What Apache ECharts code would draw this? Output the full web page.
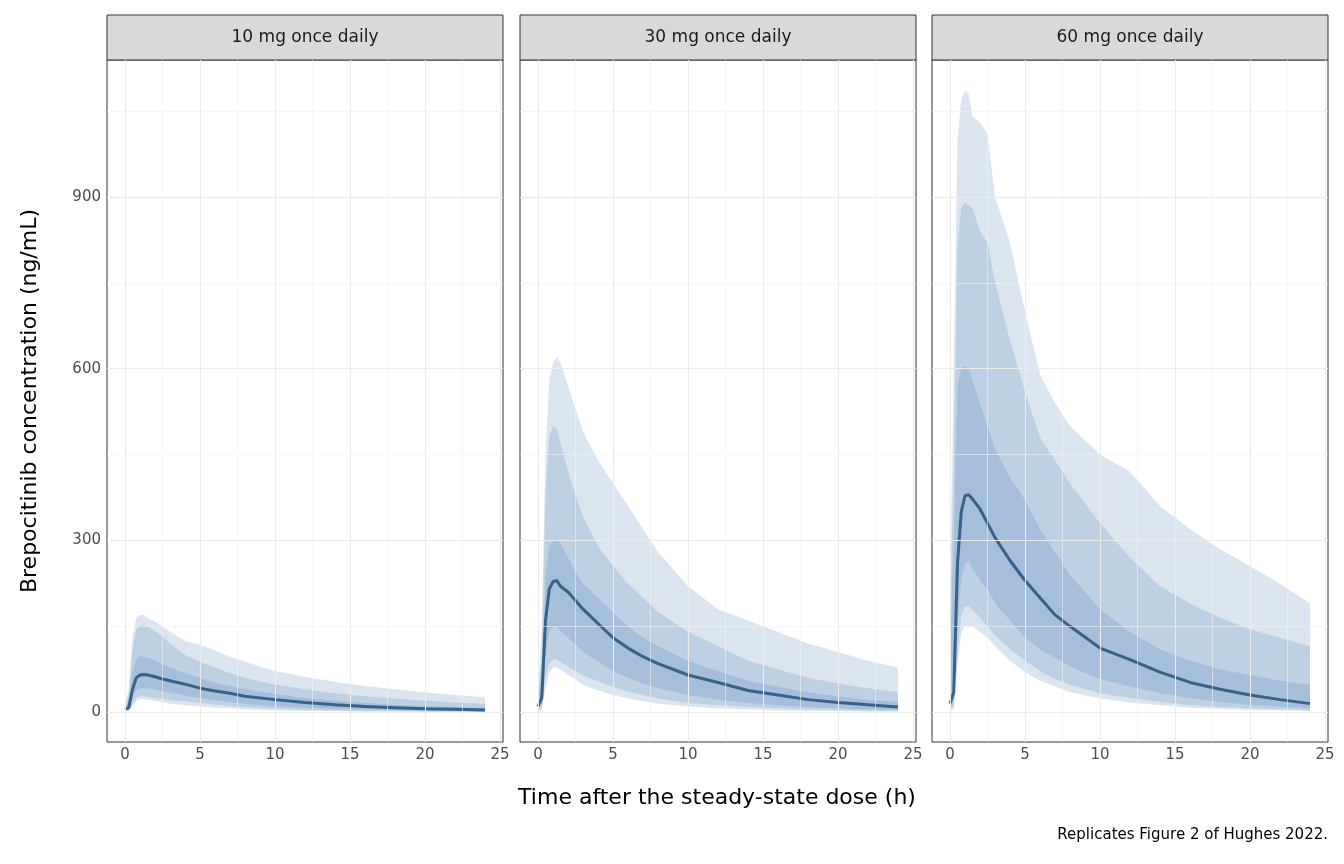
<!DOCTYPE html><html><head><meta charset="utf-8"><script src="https://cdn.jsdelivr.net/npm/echarts@6/dist/echarts.min.js"></script>
<style>html,body{margin:0;background:#fff}#c{width:1344px;height:864px}</style></head><body><div id="c"></div><script>
const panels=["10 mg once daily","30 mg once daily","60 mg once daily"];
const time=[0,0.25,0.5,0.75,1,1.25,1.5,2,2.5,3,4,5,6,7,8,10,12,14,16,18,20,22,24];
const xTicks=[0,5,10,15,20,25];
const yTicks=[0,300,600,900];
// 10 mg
const p5_10=[1,2,10,20,23,23,22,20,18,15,12,10,8,7,5,3,2,2,1,1,1,1,1];
const p10_10=[2,3,15,25,28,28,27,25,23,21,19,16,13,11,9,6,4,3,2,2,1,1,1];
const p25_10=[3,5,25,38,42,42,42,40,37,34,29,25,21,18,15,11,8,6,5,4,3,2,2];
const med_10=[5,8,40,60,65,66,65,62,58,55,49,42,37,33,28,22,17,13,10,8,6,5,4];
const p75_10=[6,18,70,92,98,97,96,90,84,78,68,60,52,46,40,32,25,20,16,13,11,9,8];
const p90_10=[8,30,110,145,152,152,150,142,132,120,100,88,78,68,60,48,40,33,28,24,20,17,15];
const p95_10=[10,40,130,165,170,170,165,158,150,140,125,118,108,97,88,72,62,53,46,40,35,30,26];
// 30 mg
const p5_30=[1,4,40,70,78,78,75,65,57,48,38,30,24,19,15,10,7,5,3,2,2,1,1];
const p10_30=[3,8,65,85,92,92,88,80,72,64,54,44,36,30,24,16,12,9,7,5,4,3,2];
const p25_30=[5,15,100,140,150,150,142,130,118,105,88,72,60,50,42,30,22,16,12,9,7,5,4];
const med_30=[10,25,160,215,228,230,220,210,195,180,155,130,112,97,85,65,52,38,30,22,17,13,9];
const p75_30=[15,60,240,290,300,300,295,270,245,225,200,175,150,130,115,90,72,55,45,35,28,22,18];
const p90_30=[20,100,380,480,500,495,470,420,380,340,290,255,225,200,175,140,115,90,75,60,50,42,35];
const p95_30=[30,150,450,580,610,620,610,570,530,490,440,400,360,320,280,220,180,160,140,120,105,90,78];
// 60 mg
const p5_60=[2,6,80,140,150,150,150,140,130,115,90,70,55,45,35,24,17,12,8,6,4,3,2];
const p10_60=[4,10,100,170,185,185,178,165,150,135,110,90,72,58,48,33,25,18,12,9,7,5,4];
const p25_60=[8,20,150,230,260,265,250,230,215,190,160,130,110,95,80,58,45,33,25,18,13,10,7];
const med_60=[15,35,260,350,378,380,372,355,330,305,265,230,200,170,150,112,92,70,52,40,30,22,15];
const p75_60=[100,300,570,600,605,600,580,540,500,460,410,370,320,280,240,180,140,110,90,75,65,55,48];
const p90_60=[150,450,820,880,890,885,880,840,820,750,650,560,480,440,400,330,270,220,190,165,145,130,115];
const p95_60=[200,600,1000,1070,1085,1080,1040,1030,1010,900,820,700,590,540,500,450,420,360,320,285,255,225,190];
const sets=[[p5_10,p10_10,p25_10,med_10,p75_10,p90_10,p95_10],[p5_30,p10_30,p25_30,med_30,p75_30,p90_30,p95_30],[p5_60,p10_60,p25_60,med_60,p75_60,p90_60,p95_60]];
const lefts=[107,520,932],W=396,T=60,H=682;
const light='rgba(53,110,170,0.18)',lineC='#35618a';
const grid=[],xAxis=[],yAxis=[],series=[],graphic=[];
const gl={color:'#ebebeb',width:1.1,type:'solid'},gm={color:'#f2f2f2',width:0.6,type:'solid'};
function band(i,lo,hi){
  return {type:'custom',xAxisIndex:i,yAxisIndex:i,z:2,silent:true,
    data:time.map((t,k)=>[t,lo[k],hi[k]]),
    renderItem:function(params,api){
      if(params.dataIndex!==0) return null;
      const n=time.length,top=[],bot=[];
      for(let k=0;k<n;k++){top.push(api.coord([time[k],hi[k]]));bot.push(api.coord([time[k],lo[k]]));}
      return {type:'polygon',shape:{points:top.concat(bot.reverse())},style:{fill:light}};
    }};
}
sets.forEach((s,i)=>{
  grid.push({left:lefts[i],top:T,width:W,height:H,show:true,borderColor:'#333',borderWidth:1,backgroundColor:'transparent'});
  xAxis.push({type:'value',gridIndex:i,min:-1.2,max:25.2,splitLine:{show:false},axisLine:{show:false},
    axisTick:{show:true,customValues:xTicks,length:4,lineStyle:{color:'#333'}},
    axisLabel:{customValues:xTicks,color:'#4d4d4d',fontSize:15,margin:6,fontFamily:'DejaVu Sans'}});
  yAxis.push({type:'value',gridIndex:i,min:-52,max:1139,splitLine:{show:false},axisLine:{show:false},
    axisTick:{show:i===0,customValues:yTicks,length:4,lineStyle:{color:'#333'}},
    axisLabel:{show:i===0,customValues:yTicks,color:'#4d4d4d',fontSize:15,margin:6,fontFamily:'DejaVu Sans'}});
  const ml=[];
  [150,450,750,1050].forEach(v=>ml.push({yAxis:v,lineStyle:gm}));
  [2.5,7.5,12.5,17.5,22.5].forEach(v=>ml.push({xAxis:v,lineStyle:gm}));
  yTicks.forEach(v=>ml.push({yAxis:v,lineStyle:gl}));
  xTicks.forEach(v=>ml.push({xAxis:v,lineStyle:gl}));
  series.push({type:'line',xAxisIndex:i,yAxisIndex:i,data:[],z:1,silent:true,
    markLine:{silent:true,symbol:'none',label:{show:false},data:ml,animation:false}});
  const [a,b,c,m,d,e,f]=s;
  series.push(band(i,a,f),band(i,b,e),band(i,c,d));
  series.push({type:'line',xAxisIndex:i,yAxisIndex:i,z:3,symbol:'none',lineStyle:{color:lineC,width:3},data:m.map((v,k)=>[time[k],v])});
  graphic.push({type:'rect',shape:{x:lefts[i],y:15,width:W,height:45},style:{fill:'#d9d9d9',stroke:'#333',lineWidth:1}});
  graphic.push({type:'text',x:lefts[i]+W/2,y:38,style:{text:panels[i],fill:'#1a1a1a',font:'17px DejaVu Sans',align:'center',verticalAlign:'middle'}});
});
graphic.push({type:'text',x:717,y:798,style:{text:'Time after the steady-state dose (h)',fill:'#000',font:'22px DejaVu Sans',align:'center',verticalAlign:'middle'}});
graphic.push({type:'text',x:30,y:401,rotation:Math.PI/2,style:{text:'Brepocitinib concentration (ng/mL)',fill:'#000',font:'22px DejaVu Sans',align:'center',verticalAlign:'middle'}});
graphic.push({type:'text',x:1328,y:835,style:{text:'Replicates Figure 2 of Hughes 2022.',fill:'#000',font:'15px DejaVu Sans',align:'right',verticalAlign:'middle'}});
const ch=echarts.init(document.getElementById('c'));
ch.setOption({animation:false,grid,xAxis,yAxis,series,graphic});
</script></body></html>
